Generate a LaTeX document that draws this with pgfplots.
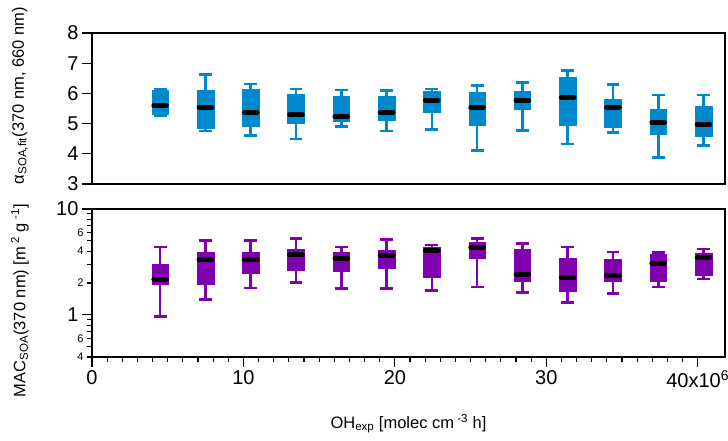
\documentclass[border=0pt]{standalone}
\usepackage{pgfplots}
\pgfplotsset{compat=1.18}
\usepgfplotslibrary{statistics}
\usepackage{fontspec}
\setmainfont{Liberation Sans}
\definecolor{bxblue}{RGB}{0,136,204}
\definecolor{bxpurp}{RGB}{128,0,176}
\newcommand{\bx}[6]{\addplot[boxplot prepared={draw position=#1, lower whisker=#2, lower quartile=#3, median=#4, upper quartile=#5, upper whisker=#6, box extend=1.1, whisker extend=0.85}] coordinates {};}
\pgfplotsset{
  common/.style={
    scale only axis, anchor=south west, width=633pt,
    xmin=0, xmax=41.8,
    boxplot/draw direction=y,
    tick align=outside, ytick pos=left,
    major tick length=10pt, minor tick length=5pt,
    axis line style={line width=1.3pt},
    every tick/.style={black, line width=1.2pt},
    /pgf/number format/assume math mode=true,
    tick label style={font=\fontsize{20}{22}\selectfont},
    label style={font=\fontsize{16.5}{19}\selectfont},
  },
  blueboxes/.style={
    boxplot/every box/.style={fill=bxblue, draw=bxblue, line width=0.5pt},
    boxplot/every whisker/.style={draw=bxblue, line width=2.6pt},
    boxplot/every median/.style={draw=black, line width=5pt, line cap=round, shorten <=2pt, shorten >=2pt},
  },
  purpboxes/.style={
    boxplot/every box/.style={fill=bxpurp, draw=bxpurp, line width=0.5pt},
    boxplot/every whisker/.style={draw=bxpurp, line width=2.6pt},
    boxplot/every median/.style={draw=black, line width=5pt, line cap=round, shorten <=2pt, shorten >=2pt},
  },
}
\begin{document}
\begin{tikzpicture}
\path[use as bounding box] (0pt,0pt) rectangle (728pt,441pt);
% top panel
\begin{axis}[common, blueboxes, at={(92pt,257pt)}, height=151pt,
  ymin=3, ymax=8, ytick={3,4,5,6,7,8}, xtick=\empty,
  ylabel={α\textsubscript{SOA,fit}(370 nm, 660 nm)},
  ylabel style={at={(axis description cs:-0.114,0.585)}, anchor=center},
]
\bx{4.50}{5.25}{5.32}{5.59}{6.11}{6.12}
\bx{7.49}{4.75}{4.86}{5.54}{6.11}{6.63}
\bx{10.48}{4.61}{4.90}{5.37}{6.14}{6.31}
\bx{13.47}{4.49}{5.01}{5.29}{5.98}{6.14}
\bx{16.46}{4.91}{5.09}{5.23}{5.91}{6.11}
\bx{19.45}{4.75}{5.10}{5.37}{5.91}{6.09}
\bx{22.44}{4.81}{5.39}{5.78}{6.08}{6.15}
\bx{25.43}{4.10}{4.93}{5.54}{6.04}{6.26}
\bx{28.42}{4.77}{5.49}{5.78}{6.08}{6.37}
\bx{31.41}{4.32}{4.95}{5.87}{6.55}{6.75}
\bx{34.40}{4.70}{4.88}{5.54}{5.80}{6.30}
\bx{37.39}{3.87}{4.66}{5.03}{5.47}{5.95}
\bx{40.38}{4.27}{4.59}{4.98}{5.59}{5.95}
\end{axis}
% bottom panel
\begin{axis}[common, purpboxes, at={(92pt,84pt)}, height=148pt,
  ymode=log, ymin=0.4, ymax=10,
  ytick={1,10}, yticklabels={1,10},
  minor ytick={0.4,0.5,0.6,0.7,0.8,0.9,2,3,4,5,6,7,8,9},
  extra y ticks={0.4,0.6,2,4,6}, extra y tick labels={4,6,2,4,6},
  extra y tick style={major tick length=5pt, tick label style={font=\fontsize{11}{12}\selectfont}},
  xtick={0,10,20,30,40}, xticklabels={0,10,20,30,40x10\textsuperscript{6}},
  minor x tick num=9, xtick pos=left,
  ylabel={MAC\textsubscript{SOA}(370 nm) [m\textsuperscript{ 2} g\textsuperscript{ -1}]},
  ylabel style={at={(axis description cs:-0.114,0.38)}, anchor=center},
  xlabel={OH\textsubscript{exp} [molec cm\textsuperscript{ -3} h]},
  xlabel style={at={(axis description cs:0.5,-0.45)}, anchor=center},
]
\bx{4.50}{0.96}{1.95}{2.17}{2.98}{4.36}
\bx{7.49}{1.39}{1.95}{3.30}{3.91}{5.07}
\bx{10.48}{1.80}{2.48}{3.30}{3.91}{5.07}
\bx{13.47}{2.01}{2.62}{3.68}{4.17}{5.25}
\bx{16.46}{1.77}{2.61}{3.43}{3.91}{4.36}
\bx{19.45}{1.77}{2.78}{3.61}{4.05}{5.17}
\bx{22.44}{1.69}{2.25}{4.02}{4.32}{4.58}
\bx{25.43}{1.83}{3.43}{4.32}{4.85}{5.29}
\bx{28.42}{1.63}{2.07}{2.43}{4.17}{4.75}
\bx{31.41}{1.31}{1.66}{2.24}{3.43}{4.36}
\bx{34.40}{1.59}{2.07}{2.37}{3.38}{3.91}
\bx{37.39}{1.83}{2.07}{3.08}{3.74}{3.88}
\bx{40.38}{2.19}{2.37}{3.47}{3.82}{4.20}
\end{axis}
\end{tikzpicture}
\end{document}
